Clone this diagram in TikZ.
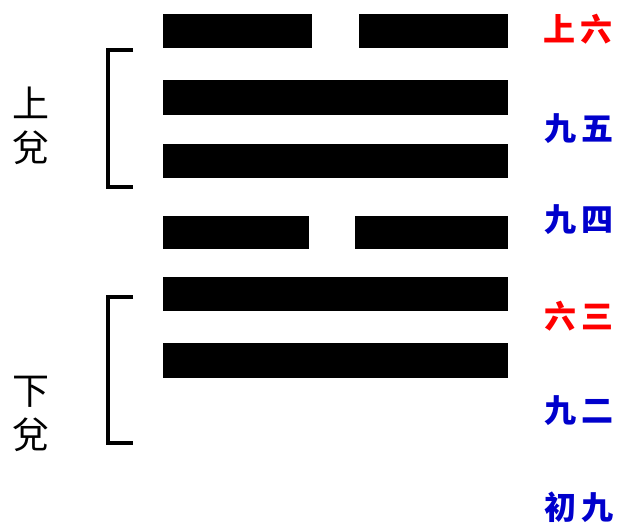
\documentclass[tikz,border=0pt]{standalone}
\usepackage{fontspec}
\newfontfamily\cjk{Noto Sans CJK TC}
\definecolor{yaored}{RGB}{255,0,0}
\definecolor{yaoblue}{RGB}{0,0,204}
\begin{document}
\begin{tikzpicture}[x=1pt,y=-1pt,
  yao/.style={fill=black,draw=none},
  yaolabel/.style={font=\cjk\bfseries\fontsize{32}{34}\selectfont,inner sep=0pt,anchor=center},
  guaname/.style={font=\cjk\fontsize{37}{44}\selectfont,inner sep=0pt,align=center,anchor=center},
  brace/.style={line width=3.5pt,line cap=butt,line join=miter}]
\useasboundingbox (0,0) rectangle (619,526);
% bars
\fill[yao] (163,14) rectangle (312,48);
\fill[yao] (359,14) rectangle (508,48);
\fill[yao] (163,80) rectangle (508,115);
\fill[yao] (163,144) rectangle (508,178);
\fill[yao] (163,216) rectangle (309,249);
\fill[yao] (355,216) rectangle (508,249);
\fill[yao] (163,277) rectangle (508,311);
\fill[yao] (163,343) rectangle (508,378);
% labels
\node[yaolabel,text=yaored]  (l6) at (578,29)  {上\hspace{5pt}六};
\node[yaolabel,text=yaoblue] (l5) at (579,129) {九\hspace{5pt}五};
\node[yaolabel,text=yaoblue] (l4) at (579,220) {九\hspace{5pt}四};
\node[yaolabel,text=yaored]  (l3) at (579,316) {六\hspace{5pt}三};
\node[yaolabel,text=yaoblue] (l2) at (579,411) {九\hspace{5pt}二};
\node[yaolabel,text=yaoblue] (l1) at (579,507) {初\hspace{5pt}九};
% trigram names
\node[guaname] (up) at (31,126) {上\\兌};
\node[guaname] (dn) at (31,414) {下\\兌};
% brackets
\coordinate (ua) at (133,50);
\coordinate (ub) at (133,187);
\coordinate (da) at (133,297);
\coordinate (db) at (133,443);
\draw[brace] (ua) -- (108,50) -- (108,187) -- (ub);
\draw[brace] (da) -- (108,297) -- (108,443) -- (db);
\end{tikzpicture}
\end{document}
